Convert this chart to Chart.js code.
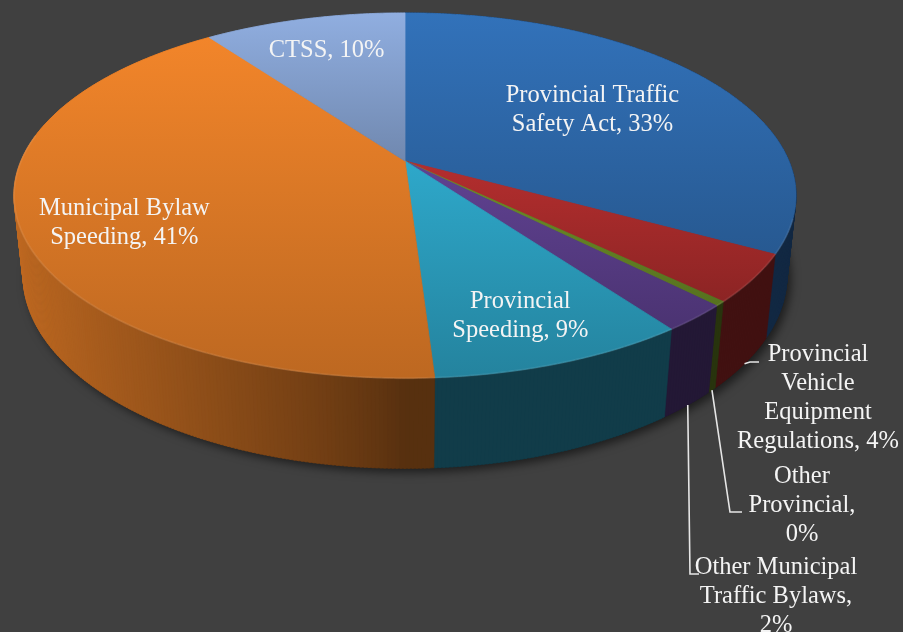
<!DOCTYPE html>
<html>
<head>
<meta charset="utf-8">
<title>Tickets by type</title>
<script src="https://cdn.jsdelivr.net/npm/chart.js@4.4.0/dist/chart.umd.min.js"></script>
<style>
html,body{margin:0;padding:0;background:#404040;overflow:hidden;}
#wrap{width:903px;height:632px;position:relative;}
#fontwarm{position:absolute;left:-1000px;top:0;font-family:"Liberation Serif",serif;font-size:24px;}
</style>
</head>
<body>
<div id="fontwarm">Provincial Traffic 0%</div>
<div id="wrap"><canvas id="pieChart" width="903" height="632"></canvas></div>
<script>
// values (share of tickets, %)
var categories=['Provincial Traffic Safety Act','Provincial Vehicle Equipment Regulations','Other Provincial','Other Municipal Traffic Bylaws','Provincial Speeding','Municipal Bylaw Speeding','CTSS'];
var shares=[33,4.2,0.4,2.4,9,41,10];
var sliceColors=['#3272ba','#b42e2e','#6e9128','#604292','#2ea8ca','#f2852a','#90aee0'];

// 3d view (pie center, radius in px, tilt, camera distance, thickness)
var view={cx:405,cy:161,F:384,tilt:27.3*Math.PI/180,D:4.7,H:0.235};

var labelFont='24.5px "Liberation Serif", Tinos, "Times New Roman", "DejaVu Serif", serif';

// where each label goes: inside ones by radius fraction, outside ones with a leader
var labelLayout=[
  {r:0.6,dx:0,dy:0,wrap:200},
  {anchor:[818,398],elbow:[750,362],end:[759,362],wrap:170},
  {anchor:[802,506],elbow:[730,512],end:[742,512],wrap:120},
  {anchor:[776,597],elbow:[690,574],end:[699,574],wrap:175},
  {r:0.8,dx:-6,dy:0,wrap:150},
  {r:0.75,dx:4,dy:15,wrap:200},
  {r:0.75,dx:0,dy:0,wrap:200}
];

function rgb(hex){
  return [parseInt(hex.substr(1,2),16),parseInt(hex.substr(3,2),16),parseInt(hex.substr(5,2),16)];
}
function shade(hex,f){
  var c=rgb(hex);
  return 'rgb('+Math.min(255,Math.round(c[0]*f))+','+Math.min(255,Math.round(c[1]*f))+','+Math.min(255,Math.round(c[2]*f))+')';
}

// theta: clockwise from the far side, r: radius fraction, h: 0 top face, -H bottom
function proj(theta,r,h){
  var x=r*Math.sin(theta), d=-r*Math.cos(theta);
  var sp=Math.sin(view.tilt), cp=Math.cos(view.tilt);
  var yv=-d*sp+h*cp;
  var zc=d*cp+h*sp;
  var s=view.D/(view.D-zc);
  return {x:view.cx+view.F*x*s, y:view.cy-view.F*yv*s, z:zc};
}

function rimLight(theta){
  var s=-Math.sin(theta);
  return 0.36+0.44*Math.pow(Math.max(0,s),0.8);
}

function wrapText(ctx,text,maxW){
  var words=text.split(' '), lines=[], cur='';
  for(var i=0;i<words.length;i++){
    var test=cur?cur+' '+words[i]:words[i];
    if(cur && ctx.measureText(test).width>maxW){
      lines.push(cur);
      cur=words[i];
    }else cur=test;
  }
  if(cur) lines.push(cur);
  return lines;
}

var pie3d={
  id:'pie3d',
  beforeDraw:function(chart){
    var ctx=chart.ctx;
    ctx.save();
    ctx.fillStyle='#404040';
    ctx.fillRect(0,0,chart.width,chart.height);
    ctx.restore();
  },
  beforeDatasetsDraw:function(chart){
    var ctx=chart.ctx;
    var arcs=chart.getDatasetMeta(0).data;
    var H=view.H, step=Math.PI/360;
    var i,t,p;

    ctx.save();

    // bottom face, only there to throw the shadow
    ctx.beginPath();
    for(t=0;t<=Math.PI*2+0.001;t+=step){
      p=proj(t,1,-H);
      if(t===0) ctx.moveTo(p.x,p.y); else ctx.lineTo(p.x,p.y);
    }
    ctx.closePath();
    ctx.shadowColor='rgba(0,0,0,0.55)';
    ctx.shadowBlur=10;
    ctx.shadowOffsetX=4;
    ctx.shadowOffsetY=4;
    ctx.fillStyle='#1a1a1a';
    ctx.fill();
    ctx.shadowColor='transparent';
    ctx.shadowBlur=0;
    ctx.shadowOffsetX=0;
    ctx.shadowOffsetY=0;

    // side wall strips, far ones first
    var strips=[];
    for(i=0;i<arcs.length;i++){
      var t0=arcs[i].startAngle+Math.PI/2, t1=arcs[i].endAngle+Math.PI/2;
      for(t=t0;t<t1;t+=step){
        var te=Math.min(t+step,t1);
        var mid=(t+te)/2;
        strips.push({a:t,b:Math.min(te+0.004,t1),mid:mid,i:i,z:proj(mid,1,0).z});
      }
    }
    strips.sort(function(a,b){return a.z-b.z;});
    strips.forEach(function(s){
      var p1=proj(s.a,1,0), p2=proj(s.b,1,0), p3=proj(s.b,1,-H), p4=proj(s.a,1,-H);
      ctx.beginPath();
      ctx.moveTo(p1.x,p1.y);
      ctx.lineTo(p2.x,p2.y);
      ctx.lineTo(p3.x,p3.y);
      ctx.lineTo(p4.x,p4.y);
      ctx.closePath();
      var col=shade(sliceColors[s.i],rimLight(s.mid));
      ctx.fillStyle=col;
      ctx.strokeStyle=col;
      ctx.lineWidth=0.6;
      ctx.fill();
      ctx.stroke();
    });

    // top faces
    for(i=0;i<arcs.length;i++){
      var a0=arcs[i].startAngle+Math.PI/2, a1=arcs[i].endAngle+Math.PI/2;
      var c=proj(0,0,0), pts=[c], ymin=c.y, ymax=c.y;
      for(t=a0;t<a1;t+=step){
        p=proj(t,1,0); pts.push(p);
      }
      pts.push(proj(a1,1,0));
      pts.forEach(function(q){ if(q.y<ymin) ymin=q.y; if(q.y>ymax) ymax=q.y; });
      ctx.beginPath();
      ctx.moveTo(pts[0].x,pts[0].y);
      for(var k=1;k<pts.length;k++) ctx.lineTo(pts[k].x,pts[k].y);
      ctx.closePath();
      var g=ctx.createLinearGradient(0,ymin,0,ymax);
      g.addColorStop(0,shade(sliceColors[i],1.0));
      g.addColorStop(1,shade(sliceColors[i],0.78));
      ctx.fillStyle=g;
      ctx.strokeStyle=g;
      ctx.lineWidth=0.8;
      ctx.fill();
      ctx.stroke();
    }

    // soft highlight on the front edge of the top
    ctx.beginPath();
    var first=true;
    for(t=Math.PI*0.6;t<=Math.PI*1.55;t+=step){
      p=proj(t,1,0);
      if(first){ctx.moveTo(p.x,p.y);first=false;} else ctx.lineTo(p.x,p.y);
    }
    ctx.strokeStyle='rgba(255,255,255,0.08)';
    ctx.lineWidth=2;
    ctx.stroke();

    // labels
    ctx.font=labelFont;
    ctx.textAlign='center';
    ctx.textBaseline='middle';
    var lineH=29;
    for(i=0;i<arcs.length;i++){
      var lay=labelLayout[i];
      var midA=(arcs[i].startAngle+arcs[i].endAngle)/2+Math.PI/2;
      var text=categories[i]+', '+Math.round(shares[i])+'%';
      var lines=wrapText(ctx,text,lay.wrap);
      var ax,ay;
      if(lay.anchor){
        var st=proj(midA,1,-H);
        ctx.beginPath();
        ctx.moveTo(st.x,st.y);
        ctx.lineTo(lay.elbow[0],lay.elbow[1]);
        ctx.lineTo(lay.end[0],lay.end[1]);
        ctx.strokeStyle='#e6e6e6';
        ctx.lineWidth=1.6;
        ctx.stroke();
        ax=lay.anchor[0]; ay=lay.anchor[1];
      }else{
        var lp=proj(midA,lay.r,0);
        ax=lp.x+lay.dx; ay=lp.y+lay.dy;
      }
      ctx.fillStyle='#f4f4f4';
      var y0=ay-(lines.length-1)*lineH/2;
      for(var j=0;j<lines.length;j++) ctx.fillText(lines[j],ax,y0+j*lineH);
    }

    ctx.restore();
    return false;
  }
};

function makeChart(){
  var ctxP=document.getElementById('pieChart').getContext('2d');
  var myPie=new Chart(ctxP,{
    type:'pie',
    data:{
      labels:categories,
      datasets:[{
        data:shares,
        backgroundColor:sliceColors,
        borderWidth:0
      }]
    },
    options:{
      responsive:false,
      animation:false,
      plugins:{
        legend:{display:false},
        tooltip:{enabled:false}
      }
    },
    plugins:[pie3d]
  });
}

if(document.fonts && document.fonts.load){
  document.fonts.load(labelFont).then(makeChart,makeChart);
}else{
  makeChart();
}
</script>
</body>
</html>
